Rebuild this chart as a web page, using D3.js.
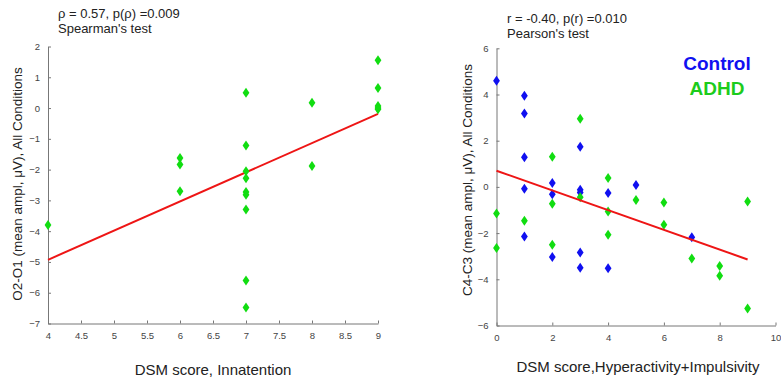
<!DOCTYPE html>
<html>
<head>
<meta charset="utf-8">
<script src="https://cdn.jsdelivr.net/npm/d3@7"></script>
<style>
  body { margin: 0; background: #fff; }
  text { font-family: Arial, "Liberation Sans", sans-serif; }
</style>
</head>
<body>
<svg width="781" height="379"></svg>
<script>
// Left panel: inattention score vs O2-O1
var inattX = [4, 6, 6, 6, 7, 7, 7, 7, 7, 7, 7, 7, 7, 8, 8, 9, 9, 9, 9, 9];
var inattY = [-3.8, -1.62, -1.83, -2.7, 0.5, -1.22, -2.05, -2.28, -2.73, -2.82, -3.3, -5.6, -6.48, 0.17, -1.88, 1.55, 0.65, 0.07, 0.0, -0.04];
var inattFit = [[4, -4.93], [9, -0.19]];

// Right panel: hyperactivity+impulsivity score vs C4-C3
var ctrlX = [0, 1, 1, 1, 1, 1, 2, 2, 2, 3, 3, 3, 3, 3, 4, 4, 5, 7];
var ctrlY = [4.6, 3.95, 3.18, 1.28, -0.08, -2.15, 0.17, -0.32, -3.04, 1.74, -0.12, -0.24, -2.84, -3.5, -0.26, -3.52, 0.08, -2.18];
var adhdX = [0, 0, 1, 2, 2, 2, 3, 3, 4, 4, 4, 5, 6, 6, 7, 8, 8, 9, 9];
var adhdY = [-1.15, -2.65, -1.46, 1.3, -0.73, -2.5, 2.95, -0.45, 0.38, -1.07, -2.07, -0.57, -0.68, -1.64, -3.1, -3.42, -3.85, -0.63, -5.26];
var hyperFit = [[0, 0.7], [9, -3.14]];

var leftXTicks = [4, 4.5, 5, 5.5, 6, 6.5, 7, 7.5, 8, 8.5, 9];
var leftYTicks = [-7, -6, -5, -4, -3, -2, -1, 0, 1, 2];
var rightXTicks = [0, 2, 4, 6, 8, 10];
var rightYTicks = [-6, -4, -2, 0, 2, 4, 6];

var green = "#11dd11", blue = "#1010f0", red = "#ee1515";

var svg = d3.select("svg");

// MATLAB style 'd' marker
function diamond(sel, color) {
  sel.attr("d", "M0,-5L3.4,0L0,5L-3.4,0Z").attr("fill", color);
}

function drawAxes(g, x, y, xTicks, yTicks) {
  var fmt = d3.format("~g");
  var xa = g.append("g")
    .attr("transform", "translate(0," + y.range()[0] + ")")
    .call(d3.axisBottom(x).tickValues(xTicks).tickFormat(fmt).tickSizeInner(-3).tickSizeOuter(0).tickPadding(9));
  var ya = g.append("g")
    .attr("transform", "translate(" + x.range()[0] + ",0)")
    .call(d3.axisLeft(y).tickValues(yTicks).tickFormat(fmt).tickSizeInner(-3).tickSizeOuter(0).tickPadding(8));
  [xa, ya].forEach(function(a) {
    a.select(".domain").attr("stroke", "#777");
    a.selectAll(".tick line").attr("stroke", "#777");
    a.selectAll(".tick text").attr("fill", "#444").style("font-size", "9.5px");
  });
}

// ---- left panel ----
var xL = d3.scaleLinear().domain([4, 9]).range([48, 378]);
var yL = d3.scaleLinear().domain([-7, 2]).range([323.5, 46.5]);
var gL = svg.append("g");
drawAxes(gL, xL, yL, leftXTicks, leftYTicks);

gL.append("path")
  .datum(inattFit)
  .attr("fill", "none").attr("stroke", red).attr("stroke-width", 2)
  .attr("d", d3.line().x(function(d) { return xL(d[0]); }).y(function(d) { return yL(d[1]); }));

gL.selectAll(".pt")
  .data(d3.range(inattX.length))
  .enter().append("path")
    .attr("transform", function(i) { return "translate(" + xL(inattX[i]) + "," + yL(inattY[i]) + ")"; })
    .call(diamond, green);

gL.append("text").attr("x", 58).attr("y", 18).style("font-size", "13px").attr("fill", "#222")
  .text("\u03c1 = 0.57, p(\u03c1) =0.009");
gL.append("text").attr("x", 58).attr("y", 33).style("font-size", "13px").attr("fill", "#222")
  .text("Spearman's test");
gL.append("text").attr("x", 213).attr("y", 375).attr("text-anchor", "middle")
  .style("font-size", "15px").attr("fill", "#222").text("DSM score, Innatention");
gL.append("text").attr("transform", "translate(22,184) rotate(-90)").attr("text-anchor", "middle")
  .style("font-size", "13.5px").attr("fill", "#222").text("O2-O1 (mean ampl, \u03bcV), All Conditions");

// ---- right panel ----
var xR = d3.scaleLinear().domain([0, 10]).range([496.5, 775.5]);
var yR = d3.scaleLinear().domain([-6, 6]).range([325.5, 48.3]);
var gR = svg.append("g");
drawAxes(gR, xR, yR, rightXTicks, rightYTicks);

gR.selectAll(".ctrl")
  .data(d3.range(ctrlX.length))
  .enter().append("path")
    .attr("transform", function(i) { return "translate(" + xR(ctrlX[i]) + "," + yR(ctrlY[i]) + ")"; })
    .call(diamond, blue);

gR.selectAll(".adhd")
  .data(d3.range(adhdX.length))
  .enter().append("path")
    .attr("transform", function(i) { return "translate(" + xR(adhdX[i]) + "," + yR(adhdY[i]) + ")"; })
    .call(diamond, green);

gR.append("path")
  .datum(hyperFit)
  .attr("fill", "none").attr("stroke", red).attr("stroke-width", 2)
  .attr("d", d3.line().x(function(d) { return xR(d[0]); }).y(function(d) { return yR(d[1]); }));

gR.append("text").attr("x", 507).attr("y", 23).style("font-size", "13px").attr("fill", "#222")
  .text("r = -0.40, p(r) =0.010");
gR.append("text").attr("x", 507).attr("y", 38).style("font-size", "13px").attr("fill", "#222")
  .text("Pearson's test");
gR.append("text").attr("x", 717).attr("y", 70).attr("text-anchor", "middle")
  .style("font-size", "19px").style("font-weight", "bold").attr("fill", blue).text("Control");
gR.append("text").attr("x", 717).attr("y", 95).attr("text-anchor", "middle")
  .style("font-size", "19px").style("font-weight", "bold").attr("fill", "#1ccc1c").text("ADHD");
gR.append("text").attr("x", 638).attr("y", 372).attr("text-anchor", "middle")
  .style("font-size", "15px").attr("fill", "#222").text("DSM score,Hyperactivity+Impulsivity");
gR.append("text").attr("transform", "translate(472,180) rotate(-90)").attr("text-anchor", "middle")
  .style("font-size", "13.5px").attr("fill", "#222").text("C4-C3 (mean ampl, \u03bcV), All Conditions");
</script>
</body>
</html>
